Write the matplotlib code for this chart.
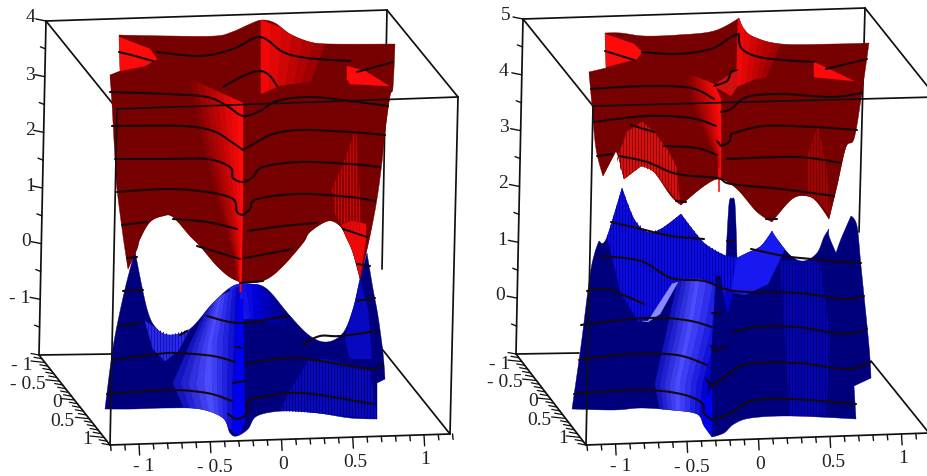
import numpy as np
import matplotlib
matplotlib.use("Agg")
import matplotlib.pyplot as plt
from matplotlib.patches import Polygon
from matplotlib.colors import to_rgb

# ---------- tick values and labels ----------
x_ticks = [round(-1.2 + 0.1 * i, 1) for i in range(25)]
x_labels = ["- 1", "- 0.5", "0", "0.5", "1"]
y_labels = ["- 1", "- 0.5", "0", "0.5", "1"]
z_labels_left = ["4", "3", "2", "1", "0", "- 1"]
z_labels_right = ["5", "4", "3", "2", "1", "0"]

# ---------- left panel: red upper band ----------
L_red_outline = [(119,36),(170,37),(215,37),(232,33),(250,25),(262,21),(275,24),(290,35),(310,43),(330,45),(395,45),(393,88),(390,97),(385,133),(382,163),(377,200),(370,237),(360,280),(353,254),(347,240),(340,227),(328,222),(310,233),(303,244),(283,267),(267,280),(250,284),(233,280),(217,267),(200,247),(190,237),(173,218),(163,217),(150,223),(140,240),(137,250),(128,270),(123,237),(117,190),(115,160),(112,105),(110,76),(120,72)]
L_red_bright_a = [(119,38),(150,50),(157,60),(145,67),(120,72)]
L_red_bright_b = [(389,87),(365,72),(347,67),(347,80),(350,85)]
L_red_back_left = [(261,21),(261,96)]
L_red_back_right = [(325,45),(310,84)]
L_red_front_left = [(190,80),(205,150),(218,200),(232,250),(238,283)]
L_red_front_right = [(243,104),(243,150),(243,200),(242,250),(241,283)]
L_red_lobe_top = [(356,128),(360,200),(362,232),(345,232),(335,215),(332,190),(345,160)]
L_red_lobe_low = [(342,226),(352,222),(366,225),(366,240),(360,278),(353,254),(347,240)]

L_red_lines = [
    [(119,53),(135,57),(153,62)],
    [(157,53),(200,57),(233,50),(260,38),(283,53),(307,59),(350,62)],
    [(357,73),(393,63)],
    [(223,88),(243,77),(260,72),(270,77),(277,87)],
    [(110,93),(167,95),(207,98),(227,107),(243,117),(260,112),(277,102),(310,98),(350,102),(388,107)],
    [(112,127),(183,127),(213,132),(230,142),(243,151),(257,143),(273,135),(300,131),(350,133),(385,136)],
    [(115,160),(167,160),(207,160),(230,168),(233,179),(243,183),(253,178),(263,168),(300,163),(350,165),(380,168)],
    [(117,193),(167,190),(207,193),(233,200),(237,213),(243,216),(250,210),(257,200),(300,195),(350,198),(375,202)],
    [(122,226),(147,223)],
    [(173,220),(207,223),(237,230)],
    [(248,232),(283,227),(317,224)],
    [(343,230),(367,238)],
    [(197,247),(240,260)],
    [(245,259),(293,250)],
    [(127,259),(137,258)],
    [(357,265),(370,267)],
    [(240,284),(263,282)],
]

# ---------- left panel: blue lower band ----------
L_blue_outline = [(135,252),(125,290),(115,337),(110,370),(105,410),(133,410),(167,409),(200,410),(223,419),(230,434),(237,437),(248,430),(257,417),(283,412),(317,414),(350,419),(377,420),(377,384),(385,380),(383,354),(378,317),(373,290),(367,254),(360,280),(353,310),(343,334),(327,343),(310,337),(290,317),(267,290),(250,285),(233,287),(213,304),(190,330),(170,336),(157,330),(147,310)]
L_blue_hump_left = [(207,309),(190,345),(173,384),(185,412)]
L_blue_hump_mid = [(222,296),(212,345),(212,385),(215,414)]
L_blue_hump_right = [(240,287),(240,330),(238,380),(236,436)]
L_blue_left_lobe = [(145,322),(157,330),(170,336),(190,330),(178,352),(165,362),(153,350)]
L_blue_right_mid = [(308,362),(327,360),(370,372),(377,420),(317,414),(280,412),(290,392)]
L_blue_right_upper = [(345,340),(353,310),(360,280),(368,310),(372,360),(350,360)]
L_blue_spine = [(238,300),(243,300),(245,420),(240,436),(233,432)]

L_blue_lines = [
    [(123,292),(143,291)],
    [(357,302),(375,299)],
    [(118,327),(140,324)],
    [(180,336),(187,332)],
    [(207,317),(240,324),(287,317)],
    [(303,345),(320,337),(340,337),(378,332)],
    [(113,361),(157,355),(177,354),(213,357),(235,363)],
    [(245,365),(287,359),(320,362),(370,370),(383,365)],
    [(107,395),(167,391),(207,394),(232,402)],
    [(233,384),(245,382)],
    [(247,407),(253,400),(300,394),(373,405)],
    [(228,415),(237,420),(247,415),(248,407)],
    [(236,348),(242,349)],
]

# ---------- right panel: red upper band ----------
R_red_outline = [(605,34),(621,34),(644,37),(677,36),(714,32),(739,19),(744,30),(754,38),(781,45),(834,45),(869,44),(861,100),(854,140),(846,148),(837,187),(829,220),(817,203),(807,197),(792,200),(772,223),(757,213),(737,190),(720,180),(704,187),(681,206),(671,197),(654,173),(641,167),(624,180),(619,160),(616,152),(603,177),(596,150),(592,107),(589,73),(606,69)]
R_red_bright_a = [(605,35),(634,45),(642,53),(637,60),(606,68)]
R_red_bright_b = [(814,63),(854,82),(814,78)]
R_red_back_left = [(738,20),(736,95)]
R_red_back_right = [(781,45),(766,78)]
R_red_front_left = [(688,75),(691,100),(704,133),(717,160),(719,190)]
R_red_front_right = [(714,85),(721,100),(721,133),(721,160),(720,190)]
R_red_patch = [(714,87),(731,97),(737,88),(736,72),(720,82)]
R_red_arc = [(617,160),(627,133),(642,123),(654,133),(667,150),(676,167),(680,205),(654,173),(641,167),(624,180)]
R_red_lobe = [(807,157),(818,127),(826,167),(831,217),(817,200),(807,197)]

R_red_lines = [
    [(605,52),(634,61)],
    [(642,53),(677,55),(711,50),(731,38),(739,35),(742,50),(764,59),(814,63)],
    [(826,70),(867,60)],
    [(714,87),(727,82),(731,73),(737,71)],
    [(591,90),(647,87),(691,89),(714,100)],
    [(721,113),(731,110),(747,98),(781,95),(831,98),(862,94)],
    [(594,123),(647,117),(691,119),(716,127)],
    [(717,142),(721,147),(729,143),(731,135),(764,127),(814,128),(857,131)],
    [(597,157),(612,155)],
    [(631,126),(654,133)],
    [(664,147),(697,149),(717,156)],
    [(727,160),(797,158),(841,164)],
    [(619,157),(647,163),(677,175),(717,179),(731,185),(781,190),(834,197)],
    [(676,202),(686,203)],
    [(766,220),(777,220)],
]

# ---------- right panel: blue lower band ----------
R_blue_outline = [(622,189),(607,238),(601,244),(599,242),(591,270),(581,347),(572,410),(614,411),(641,409),(671,411),(697,415),(704,427),(712,438),(724,434),(734,425),(751,419),(791,417),(856,420),(854,387),(871,379),(869,347),(861,267),(857,227),(851,217),(841,240),(836,254),(829,237),(829,230),(824,238),(817,254),(804,262),(791,257),(777,240),(772,232),(761,247),(747,254),(737,259),(735,205),(732,200),(729,205),(726,257),(704,244),(681,215),(661,230),(647,233),(634,220)]
R_blue_upper = [(607,238),(622,189),(634,220),(647,233),(661,230),(681,215),(704,244),(726,257),(737,259),(731,293),(712,290),(676,283),(660,310),(639,323),(621,294)]
R_blue_fan = [(737,259),(747,254),(761,247),(772,232),(785,250),(768,285),(745,296),(731,293)]
R_blue_centre_left = [(678,280),(665,340),(655,385),(660,412)]
R_blue_centre_mid = [(700,280),(692,330),(680,385),(680,414)]
R_blue_centre_right = [(733,292),(722,340),(708,385),(704,425)]
R_blue_right_mid = [(780,262),(820,262),(830,340),(826,416),(790,417),(785,340)]
R_blue_streak = [(642,322),(648,322),(672,285),(678,283),(660,315),(648,323)]
R_blue_spine = [(716,277),(720,277),(732,340),(728,420),(712,437),(708,420)]
R_blue_foot = [(702,404),(712,390),(712,438),(704,427)]

R_blue_lines = [
    [(601,257),(641,262),(671,279),(704,282),(734,292),(797,294),(844,300),(864,297)],
    [(587,292),(604,290),(621,295),(644,305)],
    [(611,223),(641,230),(671,237),(704,240)],
    [(751,250),(784,257),(811,260),(831,262),(861,264)],
    [(581,326),(631,320),(664,319),(691,322),(712,328)],
    [(731,334),(757,328),(797,328),(844,335),(867,330)],
    [(579,361),(631,355),(677,356),(707,366)],
    [(706,380),(712,387),(727,377),(747,365),(797,364),(847,370),(871,363)],
    [(574,395),(641,391),(681,395),(702,404),(704,414),(712,421),(731,414),(751,402),(791,400),(856,405)],
    [(711,347),(714,352),(727,347)],
    [(712,314),(721,315)],
    [(716,279),(720,279)],
    [(727,242),(734,242)],
]

DARK_RED = "#770000"
BRIGHT_RED = "#ff0a0a"
NAVY = "#00007c"
BLUE = "#0000f0"
LIGHT = "#4c4cff"
LINE = "#15090d"

fig = plt.figure(figsize=(9.28, 4.77), dpi=100)
ax = fig.add_axes([0, 0, 1, 1])
ax.set_xlim(0, 928)
ax.set_ylim(477, 0)
ax.axis("off")


def smooth(pts, closed=False, sub=8):
    """Draw read-off points as a rounded curve; sharp vertices stay sharp."""
    p = np.array(pts, float)
    n = len(p)
    if n < 3:
        return p
    m = np.zeros_like(p)
    for i in range(n):
        if not closed and i in (0, n - 1):
            a, b = p[max(i - 1, 0)], p[min(i + 1, n - 1)]
            m[i] = (b - a) / 2
            continue
        a, c, b = p[(i - 1) % n], p[i], p[(i + 1) % n]
        u, v = c - a, b - c
        cosang = np.dot(u, v) / (np.linalg.norm(u) * np.linalg.norm(v) + 1e-9)
        m[i] = (b - a) / 2 if cosang > 0.5 else 0
    out = []
    last = n if closed else n - 1
    for i in range(last):
        j = (i + 1) % n
        for t in np.linspace(0, 1, sub, endpoint=False):
            h = (2*t**3 - 3*t**2 + 1) * p[i] + (t**3 - 2*t**2 + t) * m[i] + (-2*t**3 + 3*t**2) * p[j] + (t**3 - t**2) * m[j]
            out.append(h)
    if not closed:
        out.append(p[-1])
    return np.array(out)


def mix(c1, c2, t):
    a, b = np.array(to_rgb(c1)), np.array(to_rgb(c2))
    return tuple(a + (b - a) * t)


def fill(pts, color, z):
    ax.add_patch(Polygon(pts, closed=True, fc=color, ec=color, lw=0.3, zorder=z))


def gradient(left, right, c1, c2, z, n=7):
    m = max(len(left), len(right))
    tt = np.linspace(0, 1, m)
    def res(c):
        c = np.array(c, float)
        s = np.linspace(0, 1, len(c))
        return np.column_stack([np.interp(tt, s, c[:, 0]), np.interp(tt, s, c[:, 1])])
    lft, rgt = res(left), res(right)
    for i in range(n):
        a = lft + (rgt - lft) * i / n
        b = lft + (rgt - lft) * (i + 1) / n
        fill(np.vstack([a, b[::-1]]), mix(c1, c2, (i + 1) / n), z)


def stripes(pts, color, z, step=3.0, lw=0.8):
    poly = Polygon(pts, closed=True, fc="none", ec="none", transform=ax.transData)
    ax.add_patch(poly)
    p = np.array(pts)
    xs = np.arange(p[:, 0].min(), p[:, 0].max(), step)
    lc = ax.vlines(xs, p[:, 1].min(), p[:, 1].max(), color=color, lw=lw, zorder=z)
    lc.set_clip_path(poly)


def lines(curves, z):
    for c in curves:
        c = smooth(c)
        ax.plot(c[:, 0], c[:, 1], color=LINE, lw=1.5, zorder=z, solid_capstyle="round")


def seg(p, q, z, lw=1.25):
    ax.plot([p[0], q[0]], [p[1], q[1]], color="#101010", lw=lw, zorder=z, solid_capstyle="round")


def box(tbl, tbr, tfr, tfl, bbl, bfl, bfr, bbl_end, bbr_start, bbr_vis):
    seg(tbl, tbr, 1); seg(tbr, tfr, 1); seg(tbl, tfl, 1)
    seg(tbl, bbl, 1); seg(tbr, bbr_vis, 1)
    seg(bbl, bbl_end, 1); seg(bbr_start, bfr, 1)
    seg(bbl, bfl, 1); seg(bfl, bfr, 1)
    seg(tfl, tfr, 9); seg(tfl, bfl, 9)
    seg(tfr, bfr, 9)


def ticks(bfl, bfr, bbl, ztop, zbot, xc, xs, xlab_pos, ylab_pos, zlab_pos, zlabs):
    for v in x_ticks:
        px = xc + xs * v
        t = (px - bfl[0]) / (bfr[0] - bfl[0])
        py = bfl[1] + (bfr[1] - bfl[1]) * t
        major = abs(v * 2 - round(v * 2)) < 1e-6
        L = 11 if major else 5.5
        seg((px, py), (px + 0.6, py + L), 2, lw=1.0)
    for v in x_ticks:
        t = (v + 1.2) / 2.4
        px = bbl[0] + (bfl[0] - bbl[0]) * t
        py = bbl[1] + (bfl[1] - bbl[1]) * t
        major = abs(v * 2 - round(v * 2)) < 1e-6
        L = 14 if major else 8
        seg((px, py), (px - L, py - 1.5), 2, lw=0.9)
    for i in range(12):
        t = i / 12
        px = ztop[0] + (zbot[0] - ztop[0]) * t
        py = ztop[1] + (zbot[1] - ztop[1]) * t
        L = 10 if i % 2 == 0 else 5
        seg((px, py), (px - L, py - 2), 2, lw=1.0)
    for labels, positions in ((x_labels, xlab_pos), (y_labels, ylab_pos), (zlabs, zlab_pos)):
        for s, p in zip(labels, positions):
            ax.text(p[0], p[1], s, family="Liberation Serif", fontsize=14, ha="center", va="center", color="#222222")


# ---------------- left panel ----------------
box((46, 22), (387, 11), (458, 98), (117, 110), (39, 356), (110, 446), (450, 435), (112, 355), (382, 350), (382, 270))
ticks((110, 446), (450, 435), (39, 356), (46, 22), (39, 356), 281.5, 142.5,
      [(144, 467), (215, 468), (283, 465), (355, 463), (425, 460)],
      [(22, 366), (28, 385), (57, 403), (62, 422), (87, 440)],
      [(31, 18), (30, 75), (30, 131), (30, 187), (26, 242), (20, 299)], z_labels_left)

outline = smooth(L_blue_outline, closed=True)
fill(outline, NAVY, 3)
k = len(ax.patches)
gradient([(258, 284), (258, 320)], [(292, 318), (292, 330)], "#0000d8", NAVY, 3.1, n=6)
gradient([(228, 285), (240, 320)], [(258, 284), (258, 320)], "#2a2aff", "#0000d8", 3.15, n=5)
gradient(L_blue_hump_left, L_blue_hump_mid, "#0505b0", LIGHT, 3.2, n=5)
gradient(L_blue_hump_mid, L_blue_hump_right, LIGHT, "#0404c8", 3.3, n=5)
fill(L_blue_left_lobe, "#2c2ce8", 3.4)
fill(L_blue_right_upper, "#0808c0", 3.4)
fill(L_blue_right_mid, "#0a0ac4", 3.4)
stripes(L_blue_right_mid, NAVY, 3.5)
stripes(L_blue_left_lobe, "#1212c0", 3.5)
fill(L_blue_spine, BLUE, 3.7)
for art in list(ax.patches)[k:]:
    art.set_clip_path(Polygon(outline, closed=True, transform=ax.transData))
lines(L_blue_lines, 4)

outline = smooth(L_red_outline, closed=True)
fill(outline, DARK_RED, 5)
k = len(ax.patches)
gradient(L_red_back_left, L_red_back_right, BRIGHT_RED, "#a00000", 5.1, n=6)
fill([(110, 76), (160, 78), (190, 80), (215, 90), (243, 105), (262, 95), (280, 87), (310, 83), (393, 88), (385, 133), (370, 237), (360, 280), (250, 284), (128, 270)], DARK_RED, 5.2)
fill(L_red_bright_a, BRIGHT_RED, 5.3)
fill(L_red_bright_b, BRIGHT_RED, 5.3)
gradient(L_red_front_left, L_red_front_right, DARK_RED, BRIGHT_RED, 5.3, n=8)
fill(L_red_lobe_top, "#8c0000", 5.3)
stripes(L_red_lobe_top, "#c80808", 5.4)
fill(L_red_lobe_low, "#ee0808", 5.35)
for art in list(ax.patches)[k:]:
    art.set_clip_path(Polygon(outline, closed=True, transform=ax.transData))
ax.plot([241, 240.5], [250, 292], color=BRIGHT_RED, lw=1.5, zorder=5.6)
lines(L_red_lines, 6)

# ---------------- right panel ----------------
box((523, 20), (865, 9), (936, 98), (593, 107), (516, 355), (586, 446), (929, 434), (579, 354), (871, 362), (859, 233))
ticks((586, 446), (929, 434), (516, 355), (523, 20), (516, 355), 758.5, 143,
      [(621, 467), (692, 468), (760, 465), (833, 463), (903, 459)],
      [(500, 365), (505, 383), (533, 402), (539, 421), (563, 439)],
      [(506, 15), (504, 72), (504, 128), (503, 184), (502, 241), (500, 296)], z_labels_right)

outline = smooth(R_blue_outline, closed=True)
fill(outline, NAVY, 3)
k = len(ax.patches)
fill(R_blue_upper, "#0c0ce0", 3.1)
stripes(R_blue_upper, "#0000a0", 3.15, lw=0.6)
fill(R_blue_fan, "#1818f0", 3.15)
fill(R_blue_right_mid, "#0606b4", 3.2)
stripes(R_blue_right_mid, NAVY, 3.3)
gradient(R_blue_centre_left, R_blue_centre_mid, "#0505b0", LIGHT, 3.4, n=5)
gradient(R_blue_centre_mid, R_blue_centre_right, LIGHT, "#0303d0", 3.5, n=5)
fill(R_blue_streak, "#8a8aff", 3.6)
fill(R_blue_spine, NAVY, 3.7)
fill(R_blue_foot, BLUE, 3.75)
for art in list(ax.patches)[k:]:
    art.set_clip_path(Polygon(outline, closed=True, transform=ax.transData))
lines(R_blue_lines, 4)

outline = smooth(R_red_outline, closed=True)
fill(outline, DARK_RED, 5)
k = len(ax.patches)
gradient(R_red_back_left, R_red_back_right, BRIGHT_RED, "#a00000", 5.1, n=6)
fill([(589, 73), (650, 72), (688, 74), (714, 85), (722, 105), (737, 88), (757, 80), (797, 78), (864, 82), (861, 100), (829, 220), (681, 206), (603, 177)], DARK_RED, 5.2)
fill(R_red_bright_a, BRIGHT_RED, 5.3)
fill(R_red_bright_b, BRIGHT_RED, 5.3)
fill(R_red_patch, "#d01010", 5.3)
gradient(R_red_front_left, R_red_front_right, DARK_RED, BRIGHT_RED, 5.3, n=8)
fill(R_red_arc, "#d41010", 5.3)
stripes(R_red_arc, "#900000", 5.4, lw=0.7)
fill(R_red_lobe, "#a00606", 5.3)
stripes(R_red_lobe, DARK_RED, 5.4, lw=0.8)
for art in list(ax.patches)[k:]:
    art.set_clip_path(Polygon(outline, closed=True, transform=ax.transData))
ax.plot([719.5, 719.5], [170, 192], color=BRIGHT_RED, lw=1.2, zorder=5.6)
lines(R_red_lines, 6)

fig.savefig("out.png", dpi=100, facecolor="white")
